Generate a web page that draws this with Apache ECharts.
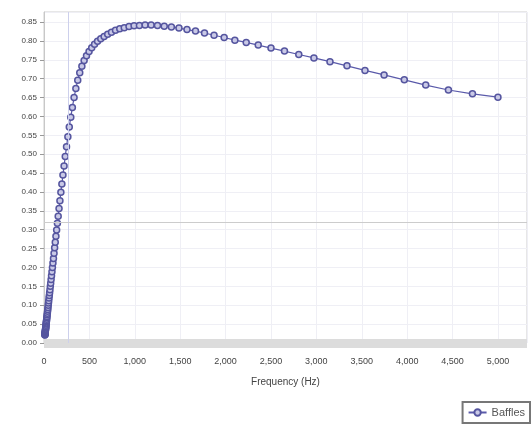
<!DOCTYPE html>
<html><head><meta charset="utf-8">
<script src="https://cdn.jsdelivr.net/npm/echarts@6/dist/echarts.min.js"></script>
<style>html,body{margin:0;padding:0;background:#fff}#c{width:532px;height:426px}</style>
</head><body><div id="c"></div>
<script>
var frequencies = [9.8,10.4,11.0,11.6,12.3,13.0,13.8,14.6,15.5,16.4,17.4,18.4,
19.5,20.7,21.9,23.2,24.6,26.1,27.6,29.3,31.0,32.8,34.8,36.9,
39.1,41.4,43.8,46.4,49.2,52.1,55.2,58.5,62.0,65.7,69.6,73.7,
78.1,82.8,87.7,92.9,98.4,104.3,110.5,117.1,124.0,131.4,139.2,147.5,
156.3,165.6,175.4,185.8,196.9,208.6,221.0,234.1,248.0,262.8,278.4,295.0,
312.5,331.1,350.8,371.6,393.7,417.1,441.9,468.2,496.1,525.6,556.8,589.9,
625.0,662.2,701.6,743.3,787.5,834.3,883.9,936.5,992.1,1051.1,1113.6,1179.8,
1250.0,1324.4,1403.1,1486.5,1574.9,1668.6,1767.8,1872.9,1984.3,2102.2,2227.3,2359.7,
2500.0,2648.7,2806.2,2973.0,3149.8,3337.1,3535.5,3745.8,3968.5,4204.5,4454.5,4719.4,5000.0];
var baffles = [0.021,0.022,0.024,0.025,0.026,0.028,0.030,0.031,0.033,0.035,0.037,0.040,
0.042,0.044,0.047,0.050,0.053,0.056,0.059,0.063,0.067,0.070,0.075,0.079,
0.084,0.089,0.094,0.100,0.106,0.112,0.119,0.126,0.133,0.141,0.150,0.158,
0.168,0.178,0.189,0.200,0.212,0.224,0.238,0.252,0.267,0.283,0.299,0.317,
0.336,0.356,0.377,0.399,0.421,0.445,0.469,0.494,0.520,0.546,0.572,0.598,
0.624,0.650,0.674,0.696,0.716,0.733,0.748,0.761,0.772,0.782,0.791,0.799,
0.806,0.812,0.818,0.823,0.828,0.832,0.835,0.838,0.840,0.841,0.842,0.842,
0.841,0.839,0.837,0.834,0.830,0.826,0.821,0.815,0.809,0.802,0.796,0.789,
0.781,0.773,0.764,0.755,0.745,0.734,0.722,0.710,0.697,0.683,0.670,0.660,0.651];
var refFrequency = 270;
var refLevel = 0.32;
var seriesName = 'Baffles';
var xTitle = 'Frequency (Hz)';

var chart = echarts.init(document.getElementById('c'), null, {renderer:'canvas'});
var pts = frequencies.map(function(f,i){return [f, baffles[i]];});
var font = 'Liberation Sans, Arial, sans-serif';
chart.setOption({
  animation:false,
  backgroundColor:'#fff',
  grid:{left:44,right:5,top:12,bottom:83,show:true,borderColor:'#cfcfcf',borderWidth:1},
  xAxis:{type:'value',min:0,max:5320,interval:500,
    name:xTitle,nameLocation:'middle',nameGap:30,
    nameTextStyle:{fontFamily:font,fontSize:10,color:'#444'},
    offset:4.5,
    axisLine:{show:true,lineStyle:{color:'#dcdcdc',width:9,cap:'butt'}},
    axisTick:{show:false},
    axisLabel:{fontFamily:font,fontSize:9,color:'#444',margin:10,showMaxLabel:false,
      formatter:function(v){return v.toLocaleString('en-US');}},
    splitLine:{show:true,lineStyle:{color:'#efeff5',width:1}}},
  yAxis:{type:'value',min:0,max:0.8766,interval:0.05,
    axisLine:{show:true,lineStyle:{color:'#c8c8c8'}},
    axisTick:{show:true,length:4,lineStyle:{color:'#999'}},
    axisLabel:{fontFamily:font,fontSize:8,color:'#444',margin:7,showMaxLabel:false,
      formatter:function(v){return v.toFixed(2);}},
    splitLine:{show:true,lineStyle:{color:'#efeff5',width:1}}},
  legend:{show:true,right:2,bottom:3,orient:'horizontal',
    borderColor:'#777',borderWidth:2,padding:[5,5,5,5],
    itemWidth:18,itemHeight:8,itemGap:4,
    textStyle:{fontFamily:font,fontSize:11,color:'#555'},
    data:[seriesName]},
  series:[{name:seriesName,type:'line',data:pts,
    symbol:'circle',symbolSize:6,showAllSymbol:true,
    lineStyle:{color:'#5a5aaa',width:1.2},
    itemStyle:{color:'#c9c9e6',borderColor:'#55559f',borderWidth:1.5},
    markLine:{silent:true,symbol:'none',label:{show:false},
      data:[{xAxis:refFrequency,lineStyle:{color:'#cdd0ec',type:'solid',width:1}},
            {yAxis:refLevel,lineStyle:{color:'#cccccc',type:'solid',width:1}}]}
  }]
});
</script></body></html>
